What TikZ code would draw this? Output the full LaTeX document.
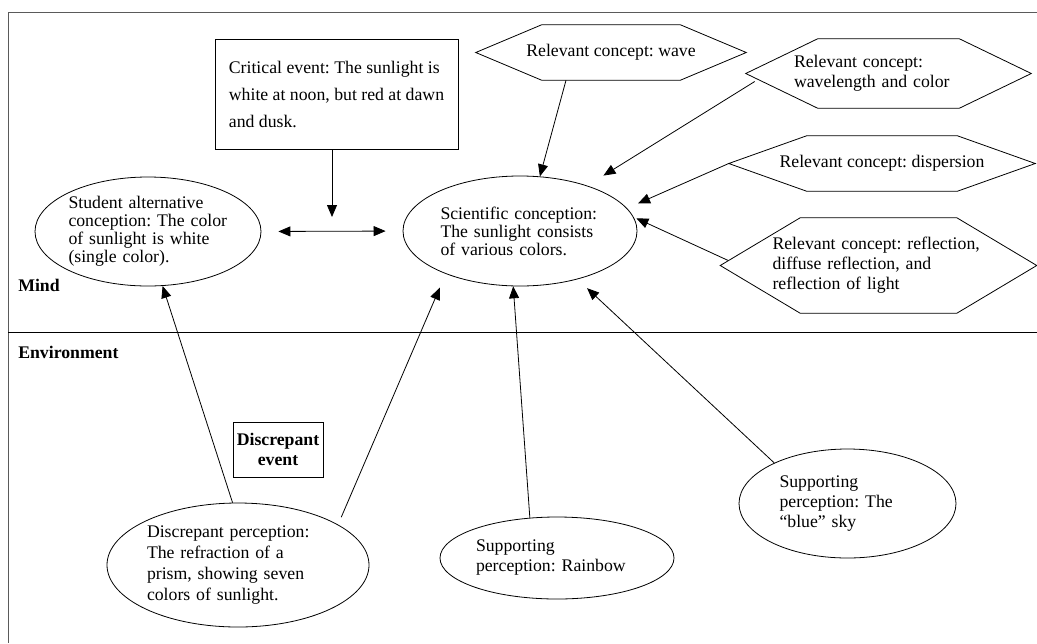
\documentclass[tikz,border=0pt]{standalone}
\usepackage{fontspec}
\setmainfont{Liberation Serif}
\usetikzlibrary{arrows.meta,shapes.geometric,calc}
\newlength{\pix}
\setlength{\pix}{0.75pt}
\definecolor{framegray}{RGB}{90,90,90}
\newcommand{\hexaline}[2]{\draw[line width=0.6pt] (#1.west) -- ($(#1.north west)+(#2,0)$) -- ($(#1.north east)+(-#2,0)$) -- (#1.east) -- ($(#1.south east)+(-#2,0)$) -- ($(#1.south west)+(#2,0)$) -- cycle;}
\tikzset{
  concept/.style={draw, ellipse, line width=0.6pt, inner sep=0pt, align=left, font=\fontsize{13.3}{15.75}\selectfont},
  hexa/.style={rectangle, inner sep=0pt, align=left, font=\fontsize{13.3}{15}\selectfont},
  eventbox/.style={draw, rectangle, line width=0.6pt, align=left, inner sep=0pt, minimum width=243\pix, minimum height=110\pix, font=\fontsize{13.3}{20.25}\selectfont},
  tagbox/.style={draw, rectangle, line width=0.6pt, align=center, inner sep=2pt, minimum width=90\pix, minimum height=55\pix, font=\fontsize{13.3}{15}\selectfont\bfseries},
  side/.style={anchor=west, inner sep=0pt, font=\fontsize{13.3}{15}\selectfont\bfseries},
  arr/.style={-{Triangle[length=9pt,width=7.5pt]}, line width=0.6pt}
}
\begin{document}
\frenchspacing
\begin{tikzpicture}[x=0.75pt, y=-0.75pt]
\useasboundingbox (0,0) rectangle (1037,643);
\draw[framegray, line width=0.6pt] (1037,12) -- (8,12) -- (8,643);
\draw[line width=0.6pt] (8,332) -- (1037,332);
\node[side] (mind) at (18,285) {Mind};
\node[side] (env) at (18,352) {Environment};
\node[eventbox] (crit) at (336.5,94) {Critical event: The sunlight is\\ white at noon, but red at dawn\\ and dusk.};
\node[concept, text width=159\pix, minimum width=226\pix, minimum height=109\pix, font=\fontsize{13.3}{13.5}\selectfont] (stud) at (148,231.5) {Student alternative\\ conception: The color\\ of sunlight is white\\ (single color).};
\node[concept, text width=159\pix, minimum width=234\pix, minimum height=110\pix, font=\fontsize{13.3}{13.5}\selectfont] (sci) at (520,231) {Scientific conception:\\ The sunlight consists\\ of various colors.};
\node[hexa, minimum width=270\pix, minimum height=55\pix] (wave) at (611,52.5) {Relevant concept: wave};
\node[hexa, text width=189\pix, minimum width=285\pix, minimum height=69\pix] (wl) at (888.5,73.5) {Relevant concept:\\ wavelength and color};
\node[hexa, minimum width=306\pix, minimum height=55\pix] (disp) at (882,163.5) {Relevant concept: dispersion};
\node[hexa, text width=212\pix, minimum width=316\pix, minimum height=95\pix] (refl) at (878.5,265.5) {Relevant concept: reflection,\\ diffuse reflection, and\\ reflection of light};
\hexaline{wave}{66}
\hexaline{wl}{72}
\hexaline{disp}{78}
\hexaline{refl}{80}
\node[tagbox] (tag) at (278,449.5) {Discrepant\\ event};
\node[concept, text width=182\pix, minimum width=262\pix, minimum height=124\pix, font=\fontsize{13.3}{15.75}\selectfont] (disc) at (238,565) {Discrepant perception:\\ The refraction of a\\ prism, showing seven\\ colors of sunlight.};
\node[concept, text width=162\pix, minimum width=234\pix, minimum height=82\pix, font=\fontsize{13.3}{15}\selectfont] (rain) at (557,558) {Supporting\\ perception: Rainbow};
\node[concept, text width=136\pix, minimum width=217\pix, minimum height=109\pix, font=\fontsize{13.3}{15}\selectfont] (sky) at (847.5,503.5) {Supporting\\ perception: The\\ “blue” sky};
\coordinate (meet) at (332,217);
\draw[arr] (crit.south -| meet) -- (meet);
\draw[{Triangle[length=9pt,width=7.5pt]}-{Triangle[length=9pt,width=7.5pt]}, line width=0.6pt, shorten <=17\pix, shorten >=17\pix] (stud.east) -- (sci.west);
\draw[arr] ($(wave.south)+(-45,0)$) -- (sci.70);
\draw[arr, shorten >=19\pix] ($(wl.west)+(9,8)$) -- (sci.34);
\draw[arr, shorten >=12\pix] (disp.west) -- (sci.12);
\draw[arr, shorten >=3\pix] ($(refl.west)+(8,-5)$) -- (sci.7);
\draw[arr] (rain.124) -- (sci.-97);
\draw[arr, shorten >=13\pix] (sky.151) -- (sci.-40.5);
\draw[arr] (disc.95) -- (stud.-75);
\draw[arr, shorten <=8\pix, shorten >=15\pix] (disc.22) -- (sci.-150);
\end{tikzpicture}
\end{document}
